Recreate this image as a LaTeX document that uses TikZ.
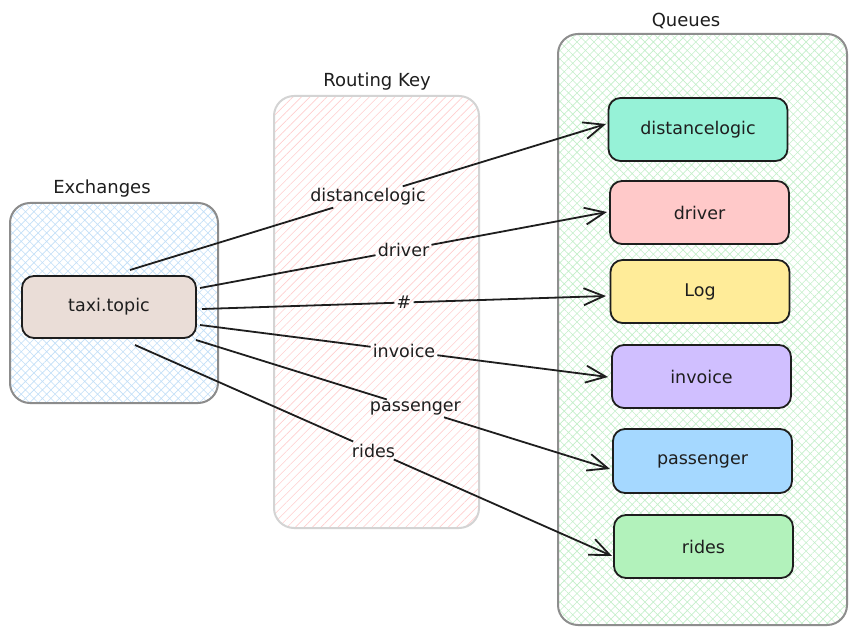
\documentclass[tikz,border=0pt]{standalone}
\usepackage{fontspec}
\setmainfont{DejaVu Sans}
\usetikzlibrary{arrows.meta,patterns.meta}
\definecolor{ink}{HTML}{1E1E1E}
\definecolor{exborder}{HTML}{8C8C8C}
\definecolor{exhatch}{HTML}{C2DFF8}
\definecolor{rkborder}{HTML}{D4D4D4}
\definecolor{rkhatch}{HTML}{FFCFCF}
\definecolor{qborder}{HTML}{8E8E8E}
\definecolor{qhatch}{HTML}{C4EFCA}
\definecolor{taxifill}{HTML}{EADDD7}
\definecolor{cteal}{HTML}{96F2D7}
\definecolor{cred}{HTML}{FFC9C9}
\definecolor{cyellow}{HTML}{FFEC99}
\definecolor{cviolet}{HTML}{D0BFFF}
\definecolor{cblue}{HTML}{A5D8FF}
\definecolor{cgreen}{HTML}{B2F2BB}
\newcommand{\qfont}{\fontsize{17.5}{20}\selectfont}
\newcommand{\tfont}{\fontsize{18}{21}\selectfont}
\tikzset{
  grp/.style={draw, line width=2pt, rounded corners=20pt, inner sep=0pt},
  queue/.style={draw=ink, line width=1.8pt, rounded corners=12pt,
    minimum width=179pt, minimum height=63pt, font=\qfont, text=ink},
  grptitle/.style={font=\tfont, text=ink},
  keylabel/.style={font=\qfont, text=ink, inner sep=2pt},
  conn/.style={draw=ink, line width=1.8pt},
  arr/.style={conn, -{Straight Barb[length=20pt,width=17pt]}},
}
\begin{document}
\begin{tikzpicture}[x=1pt,y=-1pt]
\fill[white] (0,0) rectangle (857,636);
\useasboundingbox (0,0) rectangle (857,636);

% groups
\node[grp, draw=exborder, pattern={Hatch[angle=45,distance=6pt,line width=0.6pt]}, pattern color=exhatch,
  minimum width=208pt, minimum height=200pt] (exch) at (114,303) {};
\node[grp, draw=rkborder, pattern={Lines[angle=45,distance=6pt,line width=0.6pt]}, pattern color=rkhatch,
  minimum width=205pt, minimum height=432pt] (rk) at (376.5,312) {};
\node[grp, draw=qborder, pattern={Hatch[angle=45,distance=6pt,line width=0.6pt]}, pattern color=qhatch,
  minimum width=289pt, minimum height=591pt] (qs) at (702.5,329.5) {};

\node[grptitle] (exchT) at (102,189) {Exchanges};
\node[grptitle] (rkT) at (377,82) {Routing Key};
\node[grptitle] (qsT) at (686,21) {Queues};

% exchange
\node[queue, fill=taxifill, minimum width=174pt, minimum height=62pt] (taxi) at (109,307) {taxi.topic};

% queues
\node[queue, fill=cteal] (q1) at (698,129.5) {distancelogic};
\node[queue, fill=cred] (q2) at (699.5,212.5) {driver};
\node[queue, fill=cyellow] (q3) at (700,291.5) {Log};
\node[queue, fill=cviolet] (q4) at (701.5,376.5) {invoice};
\node[queue, fill=cblue, minimum height=64pt] (q5) at (702.5,461) {passenger};
\node[queue, fill=cgreen] (q6) at (703.5,546.5) {rides};

% connector ends
\coordinate (s1) at (130,270);
\coordinate (s2) at (200,288);
\coordinate (s3) at (202,309);
\coordinate (s4) at (200,325);
\coordinate (s5) at (196,340);
\coordinate (s6) at (135,345);
\coordinate (e1) at (606,124);
\coordinate (e2) at (607,212);
\coordinate (e3) at (606,296);
\coordinate (e4) at (608,377);
\coordinate (e5) at (610,469);
\coordinate (e6) at (612,556);

% key labels on the lines
\path (s1) -- (e1) node[keylabel, pos=0.5] (k1) {distancelogic};
\path (s2) -- (e2) node[keylabel, pos=0.5] (k2) {driver};
\path (s3) -- (e3) node[keylabel, pos=0.5] (k3) {\#};
\path (s4) -- (e4) node[keylabel, pos=0.5] (k4) {invoice};
\path (s5) -- (e5) node[keylabel, pos=0.53] (k5) {passenger};
\path (s6) -- (e6) node[keylabel, pos=0.5] (k6) {rides};

\foreach \i in {1,...,6} {
  \draw[conn] (s\i) -- (k\i);
  \draw[arr] (k\i) -- (e\i);
}
\end{tikzpicture}
\end{document}
